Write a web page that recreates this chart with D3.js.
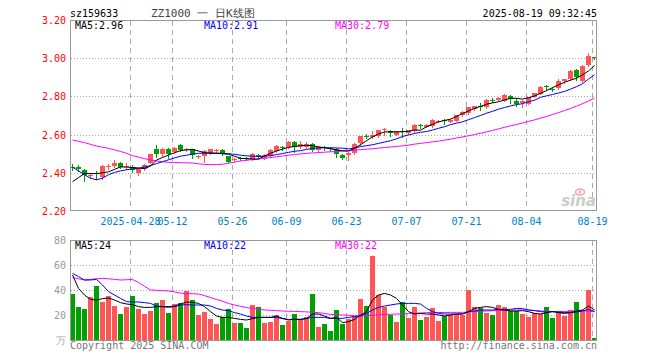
<!DOCTYPE html>
<html>
<head>
<meta charset="utf-8">
<script src="https://cdn.jsdelivr.net/npm/d3@7"></script>
<style>
body { margin: 0; background: #fff; }
svg { display: block; }
text { font-family: 'DejaVu Sans Mono', monospace; font-size: 10px; }
</style>
</head>
<body>
<script>
var dates = ['2025-04-14','2025-04-15','2025-04-16','2025-04-17','2025-04-18','2025-04-21','2025-04-22','2025-04-23','2025-04-24','2025-04-25',
  '2025-04-28','2025-04-29','2025-04-30','2025-05-06','2025-05-07','2025-05-08','2025-05-09','2025-05-12','2025-05-13','2025-05-14',
  '2025-05-15','2025-05-16','2025-05-19','2025-05-20','2025-05-21','2025-05-22','2025-05-23','2025-05-26','2025-05-27','2025-05-28',
  '2025-05-29','2025-05-30','2025-06-03','2025-06-04','2025-06-05','2025-06-06','2025-06-09','2025-06-10','2025-06-11','2025-06-12',
  '2025-06-13','2025-06-16','2025-06-17','2025-06-18','2025-06-19','2025-06-20','2025-06-23','2025-06-24','2025-06-25','2025-06-26',
  '2025-06-27','2025-06-30','2025-07-01','2025-07-02','2025-07-03','2025-07-04','2025-07-07','2025-07-08','2025-07-09','2025-07-10',
  '2025-07-11','2025-07-14','2025-07-15','2025-07-16','2025-07-17','2025-07-18','2025-07-21','2025-07-22','2025-07-23','2025-07-24',
  '2025-07-25','2025-07-28','2025-07-29','2025-07-30','2025-07-31','2025-08-01','2025-08-04','2025-08-05','2025-08-06','2025-08-07',
  '2025-08-08','2025-08-11','2025-08-12','2025-08-13','2025-08-14','2025-08-15','2025-08-18','2025-08-19'];

var opens = [2.428,2.428,2.415,2.388,2.397,2.378,2.430,2.436,2.453,2.433,
  2.432,2.398,2.418,2.453,2.527,2.498,2.527,2.510,2.545,2.521,
  2.523,2.487,2.488,2.503,2.515,2.520,2.488,2.468,2.479,2.477,
  2.471,2.492,2.475,2.488,2.512,2.533,2.533,2.562,2.533,2.535,
  2.550,2.520,2.533,2.530,2.526,2.495,2.493,2.502,2.555,2.594,
  2.585,2.595,2.626,2.618,2.600,2.618,2.607,2.617,2.652,2.642,
  2.643,2.668,2.677,2.667,2.673,2.703,2.712,2.732,2.748,2.742,
  2.782,2.781,2.778,2.800,2.777,2.763,2.762,2.797,2.815,2.852,
  2.841,2.843,2.879,2.889,2.940,2.882,2.964,3.005];
var highs = [2.445,2.440,2.420,2.400,2.410,2.440,2.445,2.467,2.455,2.450,
  2.440,2.425,2.445,2.500,2.545,2.532,2.530,2.535,2.550,2.530,
  2.525,2.495,2.520,2.525,2.525,2.525,2.490,2.480,2.485,2.482,
  2.505,2.500,2.497,2.522,2.545,2.540,2.567,2.565,2.567,2.560,
  2.555,2.540,2.540,2.535,2.530,2.497,2.510,2.555,2.595,2.605,
  2.620,2.625,2.632,2.625,2.620,2.635,2.626,2.653,2.657,2.655,
  2.680,2.675,2.680,2.682,2.705,2.722,2.745,2.750,2.765,2.785,
  2.790,2.797,2.810,2.805,2.790,2.780,2.797,2.820,2.853,2.860,
  2.850,2.890,2.892,2.937,2.943,2.962,3.025,3.005];
var lows = [2.415,2.410,2.355,2.375,2.370,2.370,2.420,2.430,2.425,2.420,
  2.405,2.390,2.415,2.450,2.484,2.490,2.480,2.505,2.515,2.515,
  2.480,2.475,2.458,2.500,2.505,2.495,2.455,2.460,2.465,2.468,
  2.468,2.480,2.470,2.485,2.510,2.520,2.530,2.510,2.530,2.528,
  2.515,2.515,2.520,2.515,2.485,2.470,2.467,2.500,2.545,2.580,
  2.582,2.590,2.600,2.595,2.598,2.590,2.605,2.615,2.635,2.638,
  2.640,2.665,2.655,2.665,2.670,2.700,2.710,2.730,2.730,2.740,
  2.770,2.780,2.776,2.765,2.752,2.743,2.760,2.795,2.810,2.835,
  2.830,2.840,2.868,2.886,2.885,2.878,2.960,2.995];
var closes = [2.425,2.420,2.390,2.391,2.394,2.435,2.433,2.452,2.430,2.436,
  2.414,2.420,2.440,2.497,2.500,2.527,2.500,2.532,2.520,2.524,
  2.494,2.490,2.516,2.523,2.518,2.505,2.458,2.471,2.476,2.474,
  2.500,2.489,2.493,2.519,2.540,2.530,2.563,2.533,2.552,2.550,
  2.520,2.535,2.530,2.527,2.496,2.478,2.505,2.550,2.592,2.591,
  2.597,2.622,2.629,2.608,2.617,2.615,2.623,2.650,2.649,2.650,
  2.676,2.671,2.674,2.679,2.703,2.718,2.742,2.748,2.745,2.781,
  2.779,2.793,2.807,2.788,2.758,2.778,2.795,2.818,2.851,2.849,
  2.838,2.881,2.889,2.934,2.903,2.960,3.011,3.003];

var ma5 = [2.353,2.375,2.396,2.396,2.396,2.400,2.405,2.418,2.431,2.430,
  2.428,2.425,2.422,2.435,2.467,2.480,2.493,2.505,2.516,2.520,
  2.523,2.514,2.505,2.503,2.502,2.500,2.497,2.487,2.476,2.474,
  2.472,2.472,2.488,2.502,2.514,2.524,2.533,2.538,2.542,2.544,
  2.542,2.536,2.531,2.526,2.519,2.516,2.514,2.528,2.547,2.568,
  2.588,2.603,2.614,2.615,2.614,2.615,2.617,2.624,2.623,2.641,
  2.654,2.667,2.674,2.681,2.695,2.710,2.724,2.737,2.748,2.759,
  2.766,2.772,2.781,2.790,2.790,2.786,2.793,2.802,2.816,2.830,
  2.846,2.860,2.874,2.885,2.895,2.913,2.933,2.962];
var ma10 = [2.429,2.410,2.390,2.372,2.363,2.372,2.390,2.402,2.410,2.416,
  2.420,2.424,2.430,2.438,2.448,2.458,2.468,2.478,2.487,2.492,
  2.498,2.502,2.503,2.503,2.503,2.502,2.500,2.497,2.492,2.489,
  2.487,2.485,2.487,2.490,2.495,2.501,2.507,2.513,2.516,2.522,
  2.528,2.530,2.531,2.531,2.530,2.529,2.525,2.530,2.537,2.542,
  2.547,2.554,2.561,2.568,2.578,2.590,2.598,2.606,2.612,2.616,
  2.624,2.633,2.641,2.652,2.660,2.667,2.678,2.689,2.700,2.712,
  2.722,2.733,2.742,2.750,2.757,2.762,2.772,2.780,2.795,2.803,
  2.810,2.818,2.826,2.838,2.851,2.866,2.891,2.913];
var ma30 = [2.572,2.565,2.558,2.549,2.540,2.534,2.528,2.520,2.512,2.502,
  2.490,2.482,2.474,2.468,2.462,2.458,2.455,2.454,2.453,2.452,
  2.451,2.447,2.444,2.443,2.443,2.445,2.450,2.456,2.462,2.466,
  2.469,2.472,2.475,2.480,2.484,2.488,2.492,2.496,2.499,2.502,
  2.504,2.506,2.508,2.510,2.511,2.513,2.515,2.518,2.521,2.524,
  2.526,2.529,2.532,2.535,2.538,2.541,2.545,2.550,2.554,2.558,
  2.562,2.566,2.571,2.576,2.582,2.588,2.594,2.600,2.607,2.614,
  2.622,2.630,2.638,2.646,2.653,2.661,2.669,2.677,2.686,2.695,
  2.705,2.715,2.726,2.737,2.749,2.762,2.776,2.790];

var volumes = [36.8,26.4,24.8,34.4,43.2,30.4,35.2,27.2,20.8,26.4,
  35.2,24.8,20.8,23.2,29.6,32.0,21.6,28.8,29.6,39.2,
  32.0,20.0,22.4,16.8,12.8,18.4,24.8,13.6,13.6,9.6,
  28.0,26.4,13.6,14.4,20.0,12.0,15.2,20.8,16.8,18.4,
  36.8,10.4,12.8,7.2,24.0,12.8,16.8,19.2,32.8,27.2,
  67.2,36.0,26.4,20.0,14.4,30.4,17.6,26.4,16.0,18.4,
  25.6,15.2,19.2,20.0,20.8,20.0,40.0,26.4,25.6,21.6,
  20.0,28.0,26.4,23.2,23.2,20.8,18.4,21.6,20.8,26.4,
  17.6,23.2,19.2,24.0,30.4,23.2,40.0,1.6];
var volMa5 = [52,41.3,36,32.5,32,33.1,33.6,32,29.9,28.8,
  28.3,26.7,26.1,26.1,26.7,26.7,26.7,27.2,28.8,30.4,
  30.1,29.3,26.7,22.7,19.2,18.1,18.1,17.3,16.5,16,
  17.1,18.1,18.1,18.1,19.2,17.3,16,16.5,16.5,17.1,
  20.8,20.8,19.2,17.3,18.1,13.9,14.7,16.5,20,22.7,
  32,36,37.3,36,33.3,28,22.7,20.8,21.3,20.8,
  20.8,20,19.2,20,20.8,20.8,22.7,25.3,26.1,26.7,
  26.1,24.5,24,23.2,23.2,23.5,22.7,21.3,20.8,21.9,
  22.7,21.9,21.3,21.9,23.2,24,27.2,24];
var volMa10 = [53.3,50.7,48,48,48.5,44,38.7,36,33.3,30.7,
  30.4,30.4,29.9,29.3,27.2,26.7,26.1,26.7,28,28.3,
  28,28,28,27.2,25.3,24,23.5,21.9,20.8,19.2,
  18.1,18.1,18.1,18.1,18.1,17.1,16.5,16.5,16.5,17.3,
  18.1,18.1,18.1,17.3,17.3,17.3,18.1,18.7,19.2,21.3,
  24,26.1,27.2,28,28.8,29.3,29.3,29.3,28.8,25.3,
  22.7,21.3,20.8,20.8,20.8,20.8,22.7,23.2,24,24,
  24,24.5,24.5,24.5,25.3,25.1,24,23.5,22.7,22.4,
  22.7,22.4,21.9,21.9,22.4,23.2,24.5,22.9];
var volMa30 = [49.9,49,48,48.5,49,49.3,49,48.5,48,48.2,
  48.5,46,43,40,39.8,39.5,39.2,38.5,37.5,37.2,
  37,36.8,35.5,34,32.5,31,29.2,28,27,25.9,
  25.3,24.6,24,23.8,23.5,23.2,23,22.9,22.7,22.5,
  22.2,21.9,21.2,20.5,20.2,20,19.8,19.5,19.2,19.4,
  19.8,20.1,20.4,20.6,20.8,21,21.2,21.4,21.6,21.9,
  22,22,22,22.1,22.1,22.1,22.4,22.7,23,23.2,
  23.4,23.6,23.8,24,24,24,24,23.6,23.3,23,
  22.8,22.7,22.8,23,23.2,23.4,23,22.6];

var tickDates = ['2025-04-28','2025-05-12','2025-05-26','2025-06-09','2025-06-23','2025-07-07','2025-07-21','2025-08-04','2025-08-19'];
var priceTicks = [2.2, 2.4, 2.6, 2.8, 3.0, 3.2];
var volTicks = [20, 40, 60, 80];

var upColor = '#ff5555';
var downColor = '#00a000';
var gridColor = '#aaaaaa';
var borderColor = '#999999';

var svg = d3.select('body').append('svg')
    .attr('width', 660)
    .attr('height', 360);

var x = d3.scaleBand().domain(dates).range([70, 598]);
var y = d3.scaleLinear().domain([2.2, 3.2]).range([211, 20]);
var yv = d3.scaleLinear().domain([0, 80]).range([340, 240]);

var idx = d3.range(dates.length);
function cx(i) { return x(dates[i]) + 2.5; }

// grid lines
function gridV(top, bottom) {
    svg.append('g').selectAll('line')
	.data(tickDates)
	.enter().append('line')
	.attr('x1', function(d) { return x(d) + 0.5; })
	.attr('x2', function(d) { return x(d) + 0.5; })
	.attr('y1', top)
	.attr('y2', bottom)
	.style('stroke', gridColor)
	.style('stroke-dasharray', '5,4');
}
gridV(21, 211);
gridV(241, 340);

svg.append('g').selectAll('line')
    .data([2.4, 2.6, 2.8, 3.0])
    .enter().append('line')
    .attr('x1', 71).attr('x2', 597)
    .attr('y1', function(d) { return Math.round(y(d)) + 0.5; })
    .attr('y2', function(d) { return Math.round(y(d)) + 0.5; })
    .style('stroke', gridColor)
    .style('stroke-dasharray', '1,2');

svg.append('g').selectAll('line')
    .data([20, 40, 60])
    .enter().append('line')
    .attr('x1', 71).attr('x2', 597)
    .attr('y1', function(d) { return Math.round(yv(d)) + 0.5; })
    .attr('y2', function(d) { return Math.round(yv(d)) + 0.5; })
    .style('stroke', gridColor)
    .style('stroke-dasharray', '1,2');

// watermark
var logo = svg.append('g');
logo.append('ellipse')
    .attr('cx', 580).attr('cy', 192).attr('rx', 4.5).attr('ry', 3)
    .style('fill', 'none').style('stroke', '#f4a0a0').style('stroke-width', 1.5);
logo.append('circle')
    .attr('cx', 580).attr('cy', 192).attr('r', 1.3)
    .style('fill', '#f4a0a0');
logo.append('text')
    .attr('x', 596).attr('y', 206)
    .attr('text-anchor', 'end')
    .style('font-family', 'DejaVu Sans')
    .style('font-size', '15px')
    .style('font-weight', 'bold')
    .style('font-style', 'italic')
    .style('fill', '#cccccc')
    .text('sina');

// volume bars
svg.append('g').selectAll('rect')
    .data(idx)
    .enter().append('rect')
    .attr('x', function(i) { return x(dates[i]); })
    .attr('width', 5)
    .attr('y', function(i) { return Math.round(yv(volumes[i])); })
    .attr('height', function(i) { return 340 - Math.round(yv(volumes[i])); })
    .style('fill', function(i) { return closes[i] >= opens[i] ? upColor : downColor; });

// candles
var candles = svg.append('g').selectAll('g')
    .data(idx)
    .enter().append('g');

candles.append('rect')
    .attr('x', function(i) { return x(dates[i]) + 2; })
    .attr('width', 1)
    .attr('y', function(i) { return Math.round(y(highs[i])); })
    .attr('height', function(i) { return Math.round(y(lows[i])) - Math.round(y(highs[i])) + 1; })
    .style('fill', function(i) { return closes[i] >= opens[i] ? upColor : downColor; });

candles.append('rect')
    .attr('x', function(i) { return x(dates[i]); })
    .attr('width', 5)
    .attr('y', function(i) { return Math.round(y(Math.max(opens[i], closes[i]))); })
    .attr('height', function(i) {
	var h = Math.round(y(Math.min(opens[i], closes[i]))) - Math.round(y(Math.max(opens[i], closes[i])));
	return Math.max(1, h);
    })
    .style('fill', function(i) { return closes[i] >= opens[i] ? upColor : downColor; });

// moving averages
function maLine(values, scale, color) {
    var line = d3.line()
	.x(function(i) { return cx(i); })
	.y(function(i) { return scale(values[i]); });
    svg.append('path')
	.datum(idx)
	.attr('d', line)
	.style('fill', 'none')
	.style('stroke', color)
	.style('stroke-width', 1);
}
maLine(ma30, y, '#ff00ff');
maLine(ma10, y, '#0000ff');
maLine(ma5, y, '#000000');
maLine(volMa30, yv, '#ff00ff');
maLine(volMa10, yv, '#0000ff');
maLine(volMa5, yv, '#000000');

// borders
svg.append('rect')
    .attr('x', 70.5).attr('y', 20.5).attr('width', 526).attr('height', 190)
    .style('fill', 'none').style('stroke', borderColor);
svg.append('rect')
    .attr('x', 70.5).attr('y', 240.5).attr('width', 526).attr('height', 100)
    .style('fill', 'none').style('stroke', borderColor);

// axes
var priceAxis = svg.append('g')
    .attr('transform', 'translate(70,0)')
    .call(d3.axisLeft(y).tickValues(priceTicks).tickFormat(d3.format('.2f')).tickSize(0).tickPadding(4));
priceAxis.select('.domain').remove();
priceAxis.selectAll('text')
    .attr('dy', '0.35em')
    .style('font-family', "'DejaVu Sans Mono', monospace")
    .style('font-size', '10px')
    .style('fill', '#ff0000');

var volAxis = svg.append('g')
    .attr('transform', 'translate(70,0)')
    .call(d3.axisLeft(yv).tickValues(volTicks).tickSize(0).tickPadding(4));
volAxis.select('.domain').remove();
volAxis.selectAll('text')
    .attr('dy', '0.35em')
    .style('font-family', "'DejaVu Sans Mono', monospace")
    .style('font-size', '10px')
    .style('fill', '#999999');

svg.append('text')
    .attr('x', 66).attr('y', 344)
    .attr('text-anchor', 'end')
    .style('fill', '#aaaaaa')
    .text('万');

svg.append('g').selectAll('text')
    .data(tickDates)
    .enter().append('text')
    .attr('x', function(d) { return x(d) + 0.5; })
    .attr('y', 225)
    .attr('text-anchor', 'middle')
    .style('fill', '#0080cc')
    .text(function(d, i) { return i == 0 ? d : d.slice(5); });

// header
svg.append('text').attr('x', 70).attr('y', 17).style('fill', '#000').text('sz159633');
svg.append('text').attr('x', 151).attr('y', 17)
    .style('font-size', '11px').style('fill', '#444')
    .text('ZZ1000 一 日K线图');
svg.append('text').attr('x', 597).attr('y', 17)
    .attr('text-anchor', 'end').style('fill', '#000')
    .text('2025-08-19 09:32:45');

// legends
function legend(yPos, labels) {
    var colors = ['#000000', '#0000ff', '#ff00ff'];
    var xs = [75, 204, 335];
    labels.forEach(function(t, k) {
	svg.append('text')
	    .attr('x', xs[k]).attr('y', yPos)
	    .style('fill', colors[k])
	    .text(t);
    });
}
legend(29, ['MA5:2.96', 'MA10:2.91', 'MA30:2.79']);
legend(249, ['MA5:24', 'MA10:22', 'MA30:22']);

// footer
svg.append('text').attr('x', 70).attr('y', 349).style('fill', '#777').text('Copyright 2025 SINA.COM');
svg.append('text').attr('x', 597).attr('y', 349)
    .attr('text-anchor', 'end').style('fill', '#777')
    .text('http://finance.sina.com.cn');
</script>
</body>
</html>
